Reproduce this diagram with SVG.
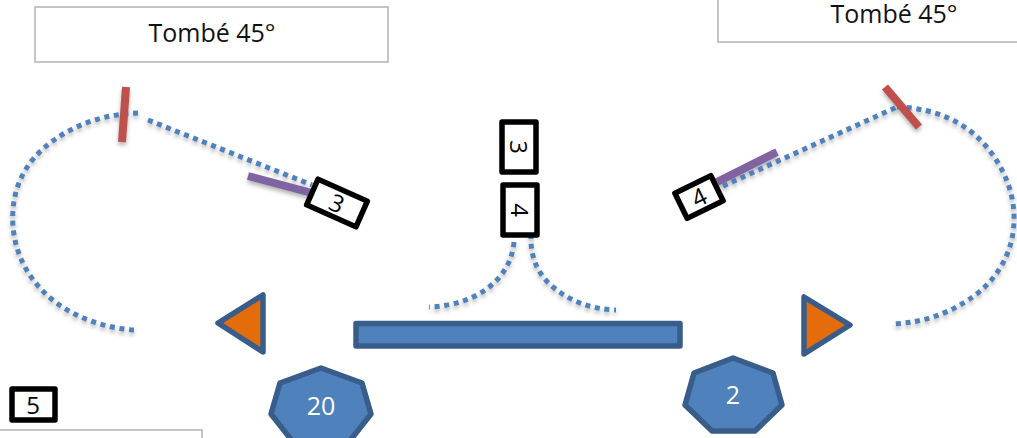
<svg xmlns="http://www.w3.org/2000/svg" width="1017" height="438" viewBox="0 0 1017 438">
<style>
text{font-family:"Open Sans","Noto Sans","Liberation Sans",sans-serif;text-anchor:middle}
.cap{fill:#fff;stroke:#bfbfbf;stroke-width:1.8}
.capt{font-size:25px;fill:#111}
.dot{fill:none;stroke:#4f81bd;stroke-width:5;stroke-dasharray:5 4.7}
.tick{stroke:#c0504d;stroke-width:8;fill:none}
.pur{stroke:#8064a2;stroke-width:8;fill:none}
.box{fill:#fff;stroke:#000;stroke-width:5.5;stroke-linejoin:round}
.bt{font-size:24px;fill:#000}
.sh{fill:#4f81bd;stroke:#385d8a;stroke-width:5.500;stroke-linejoin:round}
.tri{fill:#e46c0a;stroke:#385d8a;stroke-width:5.500;stroke-linejoin:round}
.wt{font-size:25px;fill:#fff}
</style>
<defs><filter id="s" x="-20%" y="-20%" width="140%" height="140%" color-interpolation-filters="sRGB"><feDropShadow dx="0" dy="3" stdDeviation="2" flood-color="#000" flood-opacity="0.3"/></filter></defs>
<g id="caption-left"><rect class="cap" x="35" y="7" width="353" height="55"/><text class="capt" x="212" y="42">Tombé 45°</text></g>
<g id="caption-right"><rect class="cap" x="718" y="-20" width="320" height="62"/><text class="capt" x="894" y="23">Tombé 45°</text></g>
<g id="caption-bottom"><rect class="cap" x="-20" y="430" width="222" height="40"/></g>
<g id="connectors">
<g filter="url(#s)">
<path class="dot" d="M134 330C100 328 62 313 40 288C18 264 11 235 13 210C15 182 28 160 50 143C75 124 105 114 138 113"/>
<path class="dot" d="M148 120L312 185"/>
<path class="dot" d="M723 186L897 107"/>
<path class="dot" d="M897 107C935 108 965 122 985 145C1005 168 1015 195 1014 222C1013 250 1000 275 978 293C950 314 925 322 893 324"/>
<path class="dot" d="M514 242C512 262 503 276 488 288C472 300 452 306 429 307"/>
<path class="dot" d="M531 234C530 256 537 274 553 287C570 301 590 309 616 310"/>
<path class="pur" d="M248 176L312 193"/>
<path class="pur" d="M777 152L717 182"/>
<path class="tick" d="M126 87L122 142"/>
<path class="tick" d="M885 87L919 127"/>
</g></g>
<g id="marker-3"><g transform="translate(337 203) rotate(24)"><rect class="box" x="-27" y="-14" width="54" height="28"/><text class="bt" y="9">3</text></g></g>
<g id="marker-4"><g transform="translate(699 197) rotate(-26)"><rect class="box" x="-20" y="-14" width="40" height="28"/><text class="bt" y="9">4</text></g></g>
<g id="stack-3"><g transform="translate(519 147) rotate(90)"><rect class="box" x="-25" y="-17" width="50" height="34"/><text class="bt" y="9">3</text></g></g>
<g id="stack-4"><g transform="translate(520 210) rotate(90)"><rect class="box" x="-25" y="-17" width="50" height="34"/><text class="bt" y="9">4</text></g></g>
<g id="marker-5"><rect class="box" x="12" y="389" width="43" height="31"/><text class="bt" x="33" y="414">5</text></g>
<g id="stage"><rect class="sh" x="356" y="323.500" width="324" height="22.500"/></g>
<g id="triangle-left"><polygon class="tri" points="218,323 263,295 263,352"/></g>
<g id="triangle-right"><polygon class="tri" points="850,325 804,297 804,354"/></g>
<g id="hept-20"><polygon class="sh" points="321,368 362,383 371,414 345,447 297,447 271,414 280,383"/><text class="wt" x="321" y="415">20</text></g>
<g id="hept-2"><polygon class="sh" points="733,358 773,373 782,405 755,431 712,431 685,405 694,373"/><text class="wt" x="733" y="404">2</text></g>
</svg>
